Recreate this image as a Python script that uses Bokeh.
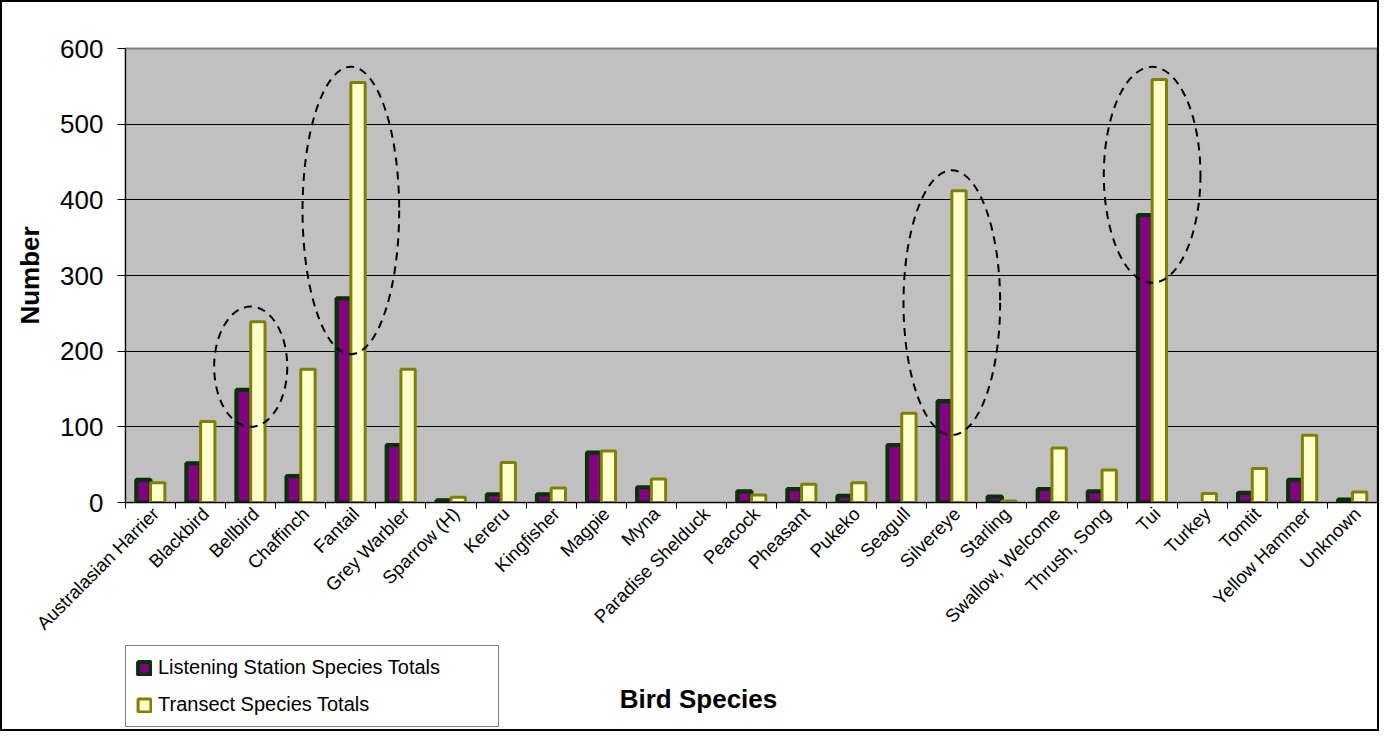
import numpy as np
from math import pi
from bokeh.plotting import figure
from bokeh.layouts import column
from bokeh.models import (ColumnDataSource, FixedTicker, LinearAxis, Range1d,
                          Legend, LegendItem, Label, Grid)
from bokeh.embed import file_html
from bokeh.resources import INLINE

species = ["Australasian Harrier", "Blackbird", "Bellbird", "Chaffinch", "Fantail",
           "Grey Warbler", "Sparrow (H)", "Kereru", "Kingfisher", "Magpie", "Myna",
           "Paradise Shelduck", "Peacock", "Pheasant", "Pukeko", "Seagull", "Silvereye",
           "Starling", "Swallow, Welcome", "Thrush, Song", "Tui", "Turkey", "Tomtit",
           "Yellow Hammer", "Unknown"]
listening = [30, 52, 149, 35, 270, 76, 3, 11, 11, 66, 20, 0, 15, 18, 9, 76, 134, 8,
             18, 15, 380, 0, 13, 30, 4]
transect = [26, 107, 239, 176, 555, 176, 7, 53, 19, 68, 31, 0, 10, 24, 26, 118, 412,
            2, 72, 43, 559, 12, 45, 89, 14]
y_ticks = [0, 100, 200, 300, 400, 500, 600]

# highlighted species (dashed ellipses): value range covered
highlight = ["Bellbird", "Fantail", "Silvereye", "Tui"]
hl_low = [100, 196, 89, 290]
hl_high = [259, 576, 439, 576]

n = len(species)
idx = np.arange(n)
bw = 1 / 3.5

LS_FILL, LS_LINE = "#800080", "#003300"
T_FILL, T_LINE = "#FFFFCC", "#808000"

src_ls = ColumnDataSource(dict(x=idx + 0.5 - bw / 2, top=listening,
                               la=[1.0 if v > 0 else 0.0 for v in listening]))
src_t = ColumnDataSource(dict(x=idx + 0.5 + bw / 2, top=transect,
                              la=[1.0 if v > 0 else 0.0 for v in transect]))

p = figure(width=1379, height=641, output_backend="svg", toolbar_location=None,
           x_range=Range1d(0, n), y_range=Range1d(0, 600),
           x_axis_type=None, y_axis_type=None,
           min_border_left=123, min_border_right=4, min_border_top=46,
           min_border_bottom=141)
p.styles = {"border": "2px solid black", "border-bottom": "none"}
p.background_fill_color = "#C0C0C0"
p.border_fill_color = "white"
p.outline_line_color = "#808080"
p.outline_line_width = 2

# y axis
yax = LinearAxis(ticker=FixedTicker(ticks=y_ticks))
yax.major_tick_out = 8
yax.major_tick_in = 0
yax.minor_tick_line_color = None
yax.axis_line_color = "black"
yax.major_tick_line_color = "black"
yax.major_label_text_font = "Liberation Sans"
yax.major_label_text_font_size = "26px"
yax.major_label_text_color = "black"
yax.major_label_standoff = 14
yax.axis_label = "Number"
yax.axis_label_text_font = "Liberation Sans"
yax.axis_label_text_font_style = "bold"
yax.axis_label_text_font_size = "26px"
yax.axis_label_text_color = "black"
yax.axis_label_standoff = 12
p.add_layout(yax, "left")

# x axis: labels at category centres, tick marks at category boundaries
centers = [i + 0.5 + 0.1 for i in range(n)]
bounds = list(range(n + 1))
xax = LinearAxis(ticker=FixedTicker(ticks=centers, minor_ticks=bounds))
xax.major_label_overrides = {c: s for c, s in zip(centers, species)}
xax.major_label_orientation = pi / 4
xax.major_tick_line_color = None
xax.major_tick_out = 6
xax.major_tick_in = 0
xax.minor_tick_line_color = "black"
xax.minor_tick_out = 6
xax.minor_tick_in = 0
xax.axis_line_color = "black"
xax.major_label_text_font = "Liberation Sans"
xax.major_label_text_font_size = "18.5px"
xax.major_label_text_color = "black"
xax.major_label_standoff = 2
p.add_layout(xax, "below")

g = Grid(dimension=1, ticker=FixedTicker(ticks=y_ticks))
g.grid_line_color = "black"
g.grid_line_width = 1
p.add_layout(g)

p.vbar(x="x", top="top", width=bw, bottom=0, source=src_ls,
       fill_color=LS_FILL, line_color=LS_LINE, line_width=4, line_alpha="la")
p.vbar(x="x", top="top", width=bw, bottom=0, source=src_t,
       fill_color=T_FILL, line_color=T_LINE, line_width=3, line_alpha="la")

# dashed ellipses around highlighted species
hl_idx = [species.index(s) for s in highlight]
ex = [i + 0.5 for i in hl_idx]
ey = [(lo + hi) / 2 for lo, hi in zip(hl_low, hl_high)]
eh = [hi - lo for lo, hi in zip(hl_low, hl_high)]
ew = [1.46 if s == "Bellbird" else 1.93 for s in highlight]
p.ellipse(x=ex, y=ey, width=ew, height=eh, fill_alpha=0, line_color="black",
          line_width=2, line_dash="8 6")

# lower strip: legend and x-axis title
q = figure(width=1379, height=90, output_backend="svg", toolbar_location=None,
           x_range=Range1d(0, 1), y_range=Range1d(0, 1),
           x_axis_type=None, y_axis_type=None, min_border=0)
q.styles = {"border": "2px solid black", "border-top": "none"}
q.xgrid.visible = False
q.ygrid.visible = False
q.outline_line_color = None
q.background_fill_color = "white"
q.border_fill_color = "white"
# legend-only renderers, placed far outside the visible ranges
e_ls = q.vbar(x=[-50], bottom=[-60], top=[-59], width=0.001,
              fill_color=LS_FILL, line_color=LS_LINE, line_width=4)
e_t = q.vbar(x=[-50], bottom=[-60], top=[-59], width=0.001,
             fill_color=T_FILL, line_color=T_LINE, line_width=3)

legend = Legend(items=[LegendItem(label="Listening Station Species Totals", renderers=[e_ls]),
                       LegendItem(label="Transect Species Totals", renderers=[e_t])],
                location=(0, 4))
legend.border_line_color = "black"
legend.border_line_width = 1
legend.background_fill_color = "white"
legend.background_fill_alpha = 1
legend.padding = 10
legend.margin = 0
legend.spacing = 14
legend.glyph_width = 16
legend.glyph_height = 16
legend.label_height = 22
legend.label_width = 330
legend.label_standoff = 6
legend.label_text_font = "Liberation Sans"
legend.label_text_font_size = "20px"
legend.label_text_color = "black"
q.add_layout(legend, "center")

title = Label(x=573, y=33, x_units="screen", y_units="screen", text="Bird Species",
              text_font="Liberation Sans", text_font_style="bold",
              text_font_size="26px", text_align="center", text_baseline="middle",
              text_color="black")
q.add_layout(title)

layout = column(p, q, spacing=0)
open("out.html", "w").write(file_html(layout, INLINE))
